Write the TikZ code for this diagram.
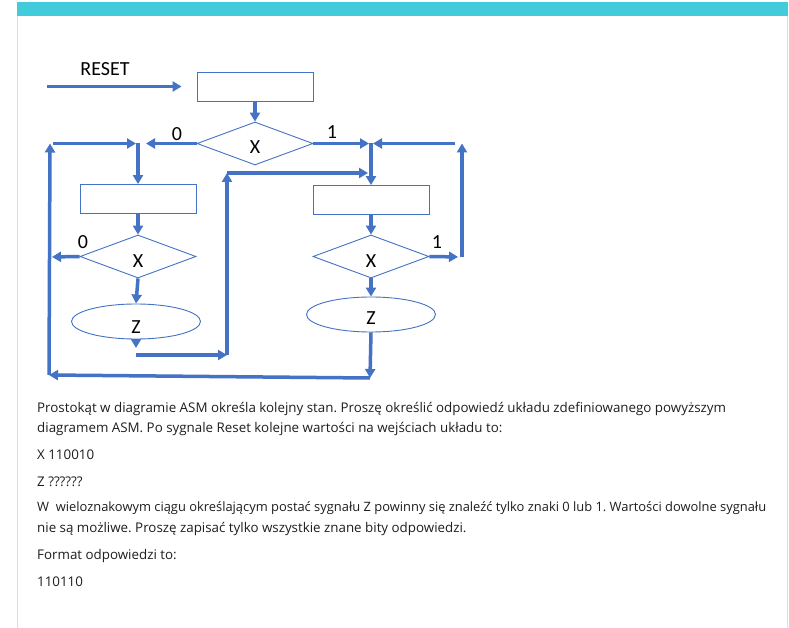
\documentclass[tikz,border=0pt]{standalone}
\usepackage{fontspec}
\setmainfont{Open Sans}
\newfontfamily\diagfont{Carlito}
\usetikzlibrary{shapes.geometric}
\usetikzlibrary{arrows.meta}
\definecolor{asmblue}{RGB}{68,114,196}
\definecolor{barteal}{RGB}{65,203,219}
\definecolor{cardline}{RGB}{222,222,222}
\definecolor{ink}{RGB}{30,30,30}
\newcommand{\lowered}[2]{\raisebox{-#1}[0pt][0pt]{#2}}
\frenchspacing

\begin{document}
\begin{tikzpicture}[x=1pt,y=-1pt,
            state/.style={rectangle,draw=asmblue,line width=0.9pt,minimum width=116pt,minimum height=29pt,inner sep=0pt},
            cond/.style={diamond,draw=asmblue,line width=0.9pt,minimum width=116pt,minimum height=43pt,inner sep=0pt,font=\diagfont\fontsize{20}{24}\selectfont},
            outp/.style={ellipse,draw=asmblue,line width=0.9pt,minimum width=129pt,minimum height=35pt,inner sep=0pt,font=\diagfont\fontsize{20}{24}\selectfont},
            flow/.style={draw=asmblue,line width=3.5pt,-{Triangle[length=9pt,width=10pt]}},
            lbl/.style={inner sep=0pt,font=\diagfont\fontsize{20}{24}\selectfont},
            txt/.style={anchor=west,inner sep=0pt,text=ink,font=\fontsize{13.35}{16}\selectfont},
            ]
            
            \useasboundingbox (0,0) rectangle (789,628);
            \fill[white] (0,0) rectangle (789,628);
            
            % card
            \draw[cardline] (17.5,2) -- (17.5,628);
            \draw[cardline] (787.5,2) -- (787.5,628);
            \fill[barteal] (17,2) rectangle (788,16);
            
            % states, conditions, outputs
            \node[state] (s0) at (255,86.5) {};
            \node[state] (s1) at (138,199) {};
            \node[state] (s2) at (371,200) {};
            
            \node[cond] (d0) at (255,143.5) {\lowered{10.5pt}{X}};
            \node[cond] (d1) at (138,256.5) {\lowered{10.5pt}{X}};
            \node[cond] (d2) at (371,256.5) {\lowered{10.5pt}{X}};
            
            \node[outp] (z1) at (136,321.5) {\lowered{12pt}{Z}};
            \node[outp] (z2) at (371,314.5) {\lowered{10pt}{Z}};
            
            \node[lbl] (reset) at (105,69) {RESET};
            \node[lbl] (l0a) at (177,134) {0};
            \node[lbl] (l1a) at (332,132) {1};
            \node[lbl] (l0b) at (83,242) {0};
            \node[lbl] (l1b) at (437,242) {1};
            
            % corners
            \coordinate (rst) at (47,86.5);
            \coordinate (j0) at (138,143.5);
            \coordinate (j1) at (371,143.5);
            \coordinate (j2) at (371,173);
            \coordinate (lt) at (50,143.5);
            \coordinate (lm) at (50,257);
            \coordinate (lb) at (49,375);
            \coordinate (rt) at (462,143.5);
            \coordinate (rb) at (462,257);
            \coordinate (mt) at (227,173);
            \coordinate (mb) at (227,355);
            \coordinate (zd) at (136,348);
            \coordinate (zc) at (136,355);
            \coordinate (rz) at (370,378);
            
            % connectors
            \draw[flow, shorten >=15pt] (rst) -- (s0.west);
            \draw[flow] (s0.south) -- (d0.north);
            \draw[flow, shorten >=8pt] (d0.west) -- (j0);
            \draw[flow] (j0) -- (s1.north);
            \draw[flow, shorten >=2pt] (d0.east) -- (j1);
            \draw[flow] (j1) -- (s2.north);
            \draw[flow] (s1.south) -- (d1.north);
            \draw[flow] (s2.south) -- (d2.north);
            \draw[flow, shorten >=2pt] (d1.west) -- (lm);
            \draw[flow, shorten >=4pt] (d2.east) -- (rb);
            \draw[flow] (rb) -- (rt);
            \draw[flow, shorten <=7pt, shorten >=2pt] (rt) -- (j1);
            \draw[flow] (d1.south) -- (z1.north);
            \draw[flow] (d2.south) -- (z2.north);
            \draw[flow] (z1.south) -- (zd);
            \draw[flow] (zc) -- (mb);
            \draw[flow] (mb) -- (mt);
            \draw[flow, shorten >=3pt] (mt) -- (j2);
            \draw[flow] (z2.south) -- (rz);
            \draw[flow] (rz) -- (lb);
            \draw[flow] (lb) -- (lt);
            \draw[flow, shorten <=3pt, shorten >=2pt] (lt) -- (j0);
            
            % question text
            \node[txt] (q1) at (37,409) {Prostokąt w diagramie ASM określa kolejny stan. Proszę określić odpowiedź układu zdefiniowanego powyższym};
            \node[txt] (q2) at (37,429) {diagramem ASM. Po sygnale Reset kolejne wartości na wejściach układu to:};
            \node[txt] (q3) at (37,455) {X 110010};
            \node[txt] (q4) at (37,482) {Z ??????};
            \node[txt] (q5) at (37,508) {\resizebox{729pt}{!}{W\ \ wieloznakowym ciągu określającym postać sygnału Z powinny się znaleźć tylko znaki 0 lub 1. Wartości dowolne sygnału}};
            \node[txt] (q6) at (37,529) {nie są możliwe. Proszę zapisać tylko wszystkie znane bity odpowiedzi.};
            \node[txt] (q7) at (37,556) {Format odpowiedzi to:};
            \node[txt] (q8) at (37,582) {110110};
        \end{tikzpicture}
\end{document}
